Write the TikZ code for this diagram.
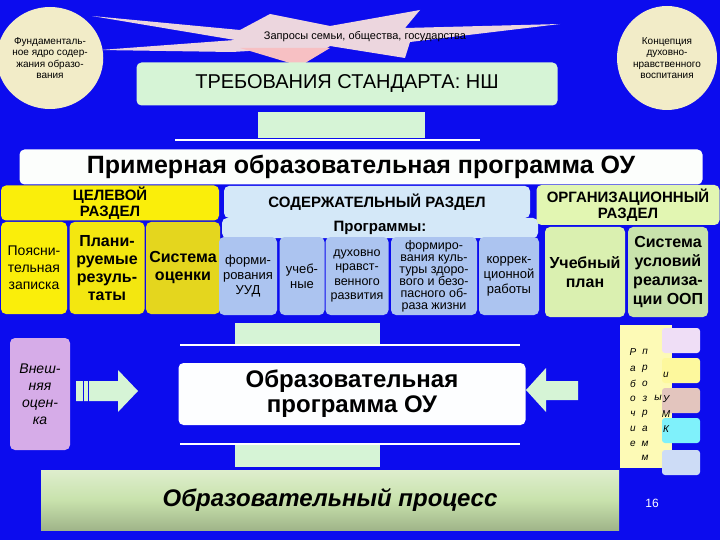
\documentclass[tikz,border=0pt]{standalone}
\usepackage{fontspec}
\setmainfont{Liberation Sans}
\usetikzlibrary{shapes.geometric}
\definecolor{bg}{RGB}{12,12,238}
\definecolor{ylw}{RGB}{250,238,10}
\definecolor{ylwd}{RGB}{228,214,30}
\definecolor{lblue}{RGB}{212,232,248}
\definecolor{gblue}{RGB}{172,196,240}
\definecolor{lgreen}{RGB}{214,244,214}
\definecolor{ygreen}{RGB}{226,246,178}
\definecolor{ggreen}{RGB}{200,226,172}
\definecolor{cream}{RGB}{242,236,200}
\definecolor{purp}{RGB}{214,172,232}
\definecolor{pinkg}{RGB}{236,214,222}
\begin{document}
\begin{tikzpicture}[x=1pt,y=-1pt,
  box/.style={draw=none,rounded corners=5pt,align=center,inner sep=1pt,font=\fontsize{12.5}{12.5}\selectfont},
  bbox/.style={box,font=\fontsize{15}{15.5}\selectfont\bfseries},
  ell/.style={ellipse,fill=cream,align=center,inner sep=0pt,font=\fontsize{10}{11.5}\selectfont},
  bar/.style={fill=lgreen,draw=none},
  wline/.style={draw=white,line width=1.2pt},
  let/.style={font=\fontsize{10}{10}\selectfont\itshape,inner sep=0pt}]
\useasboundingbox (0,0) rectangle (720,540);
\fill[bg] (0,0) rectangle (720,540);
% burst
\fill[pinkg] (92,16)--(240,30)--(270,14)--(330,26)--(420,10)--(405,28)--(560,24)--(410,42)--(405,58)--(330,46)--(300,66)--(265,50)--(232,52)--(100,50)--(235,40)--cycle;
\fill[pinkg!70!red!60!white] (240,48)--(330,48)--(300,66)--cycle;
\node[font=\fontsize{11}{11}\selectfont] (zap) at (365,37) {Запросы семьи, общества, государства};
\node[ell,minimum width=96pt,minimum height=102pt] (fund) at (50,58) {Фундаменталь-\\ное ядро содер-\\жания образо-\\вания};
\node[ell,minimum width=100pt,minimum height=104pt] (konc) at (667,58) {Концепция\\духовно-\\нравственного\\воспитания};
\node[box,fill=lgreen,minimum width=421pt,minimum height=43pt,font=\fontsize{20}{20}\selectfont] (treb) at (347,84) {ТРЕБОВАНИЯ СТАНДАРТА: НШ};
\fill[bar] (258,112) rectangle (425,138);
\draw[wline] (175,140) -- (480,140);
\node[box,fill=white!93!lgreen,minimum width=683pt,minimum height=35pt,font=\fontsize{25}{25}\selectfont\bfseries] (prim) at (361,167) {Примерная образовательная программа ОУ};
% target section
\node[bbox,fill=ylw,minimum width=218pt,minimum height=35pt] (cel) at (110,203) {ЦЕЛЕВОЙ\\РАЗДЕЛ};
\node[box,fill=ylw,minimum width=66pt,minimum height=92pt,font=\fontsize{14}{17}\selectfont] (pz) at (34,268) {Поясни-\\тельная\\записка};
\node[bbox,fill=ylw!70!ylwd,minimum width=75pt,minimum height=92pt,font=\fontsize{16}{18}\selectfont\bfseries] (pr) at (107,268) {Плани-\\руемые\\резуль-\\таты};
\node[bbox,fill=ylwd,minimum width=74pt,minimum height=92pt,font=\fontsize{16}{18}\selectfont\bfseries] (so) at (183,268) {Система\\оценки};
% content
\node[bbox,fill=lblue,minimum width=306pt,minimum height=32pt] (sod) at (377,202) {СОДЕРЖАТЕЛЬНЫЙ РАЗДЕЛ};
\node[bbox,fill=lblue,minimum width=316pt,minimum height=20pt] (prog) at (380,228) {Программы:};
\node[box,fill=gblue,minimum width=58pt,minimum height=78pt,font=\fontsize{13}{15}\selectfont] (uud) at (248,276) {форми-\\рования\\УУД};
\node[box,fill=gblue,minimum width=45pt,minimum height=78pt,font=\fontsize{13}{15}\selectfont] (ucheb) at (302,276) {учеб-\\ные};
\node[box,fill=gblue,minimum width=63pt,minimum height=78pt,font=\fontsize{12.5}{14.5}\selectfont] (duh) at (357,276) {духовно\\нравст-\\венного\\развития};
\node[box,fill=gblue,minimum width=86pt,minimum height=78pt,font=\fontsize{12.5}{12}\selectfont] (zozh) at (434,276) {формиро-\\вания куль-\\туры здоро-\\вого и безо-\\пасного об-\\раза жизни};
\node[box,fill=gblue,minimum width=60pt,minimum height=78pt,font=\fontsize{13}{15}\selectfont] (korr) at (509,276) {коррек-\\ционной\\работы};
% org
\node[bbox,fill=ygreen,minimum width=183pt,minimum height=40pt] (org) at (628,205) {ОРГАНИЗАЦИОННЫЙ\\РАЗДЕЛ};
\node[bbox,fill=ygreen!70!ggreen,minimum width=80pt,minimum height=90pt,font=\fontsize{16}{19}\selectfont\bfseries] (up) at (585,272) {Учебный\\план};
\node[bbox,fill=ggreen,minimum width=80pt,minimum height=90pt,font=\fontsize{16}{19}\selectfont\bfseries] (su) at (668,272) {Система\\условий\\реализа-\\ции ООП};
% middle
\fill[bar] (235,323) rectangle (380,344);
\draw[wline] (180,345) -- (520,345);
\node[box,fill=purp,minimum width=60pt,minimum height=112pt,font=\fontsize{14}{17}\selectfont\itshape] (vn) at (40,394) {Внеш-\\няя\\оцен-\\ка};
\node[box,fill=white!95!lblue,minimum width=347pt,minimum height=62pt,font=\fontsize{24}{25}\selectfont\bfseries] (oop) at (352,394) {Образовательная\\программа ОУ};
\fill[lgreen] (76,381)--(118,381)--(118,370)--(138,391)--(118,412)--(118,401)--(76,401)--cycle;
\draw[bg,line width=1pt] (83,380)--(83,402) (88,380)--(88,402);
\fill[lgreen] (578,381)--(546,381)--(546,368)--(526,390)--(546,412)--(546,400)--(578,400)--cycle;
\fill[bar] (235,445) rectangle (380,467);
\draw[wline] (180,444) -- (520,444);
\node[box,rounded corners=0pt,top color=ggreen!60!white,bottom color=ggreen!80!black,middle color=ggreen,minimum width=578pt,minimum height=60pt,font=\fontsize{24}{24}\selectfont\bfseries\itshape] (proc) at (330,500) {Образовательный процесс};
% right panel
\fill[white!70!ylw] (620,325) rectangle (672,468);
\foreach \y/\c in {328/purp!40!white,358/ylw!40!white,388/pinkg!80!brown,418/lblue!60!cyan,450/gblue!60!white}
  \fill[\c,rounded corners=3pt] (662,\y) rectangle (700,\y+25);
\node[let] (l1) at (633,352) {Р}; \node[let] at (645,352) {п};
\node[let] at (633,369) {а}; \node[let] at (645,369) {р};
\node[let] at (633,384) {б}; \node[let] at (645,384) {о};
\node[let] at (633,399) {о}; \node[let] at (645,399) {з};
\node[let] at (633,414) {ч}; \node[let] at (645,414) {р};
\node[let] at (633,429) {и}; \node[let] at (645,429) {а};
\node[let] at (633,444) {е}; \node[let] at (645,444) {м};
\node[let] at (645,458) {м};
\node[let] at (658,398) {ы};
\node[let] at (666,375) {и};
\node[let] at (666,399) {У};
\node[let] at (666,414) {М};
\node[let] at (666,429) {К};
\node[font=\fontsize{12}{12}\selectfont\rmfamily,text=white] (num) at (652,503) {16};
\end{tikzpicture}
\end{document}
